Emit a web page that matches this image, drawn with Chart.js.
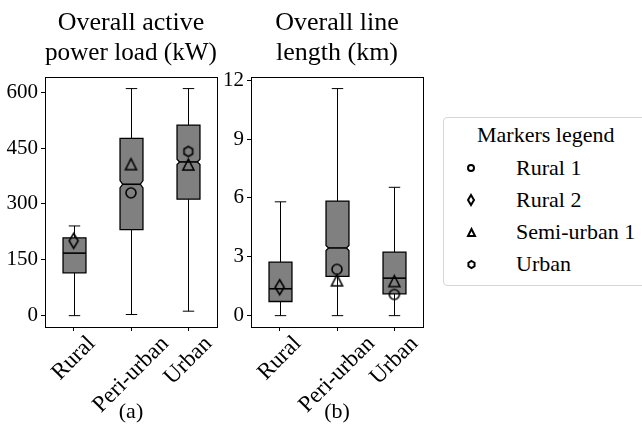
<!DOCTYPE html>
<html>
<head>
<meta charset="utf-8">
<script src="https://cdn.jsdelivr.net/npm/chart.js@4.4.1/dist/chart.umd.min.js"></script>
<style>
  html, body { margin: 0; padding: 0; background: #fff; }
  body { width: 642px; height: 432px; position: relative; overflow: hidden; font-family: 'Liberation Serif', serif; }
  canvas.chart { position: absolute; top: 0; }
  #chartA { left: 0; }
  #chartB { left: 206px; }
  .legend { position: absolute; left: 443px; top: 117px; width: 230px; height: 169px; border: 1px solid #d6d6d6; border-radius: 4px; box-sizing: border-box; }
  .lg { position: absolute; font-size: 22px; line-height: 26px; white-space: nowrap; color: #000; }
  .lm { position: absolute; }
</style>
</head>
<body>
<canvas id="chartA" class="chart" width="232" height="432"></canvas>
<canvas id="chartB" class="chart" width="232" height="432"></canvas>
<div class="legend"></div>
<div id="legendItems"></div>
<script>
const categories = ['Rural', 'Peri-urban', 'Urban'];

// (a) overall active power load (kW)
const loadTicks = [0, 150, 300, 450, 600];
const loadMin = [0, 3, 12];
const loadQ1 = [115, 231, 313];
const loadMedian = [168, 353, 413];
const loadQ3 = [209, 476, 512];
const loadMax = [241, 610, 610];
const loadNotch = [0, 10, 7];

// (b) overall line length (km)
const lengthTicks = [0, 3, 6, 9, 12];
const lengthMin = [0, 0, 0];
const lengthQ1 = [0.72, 2.0, 1.11];
const lengthMedian = [1.37, 3.45, 1.91];
const lengthQ3 = [2.73, 5.84, 3.24];
const lengthMax = [5.8, 11.57, 6.54];
const lengthNotch = [0, 0.13, 0];

// reference feeders shown as markers
const markerNames = ['Rural 1', 'Rural 2', 'Semi-urban 1', 'Urban'];
const loadRural1 = [null, 330, null];
const loadRural2 = [201, null, null];
const loadSemiUrban1 = [null, 407, 406];
const loadUrban = [null, null, 441];
const lengthRural1 = [null, 2.36, 1.08];
const lengthRural2 = [1.45, null, null];
const lengthSemiUrban1 = [null, 1.8, 1.76];
const lengthUrban = [null, null, null];

Chart.defaults.font.family = "'Liberation Serif', serif";
Chart.defaults.color = '#000';

function markerImage(shape, size, lw) {
  const pad = Math.ceil(lw) + 1;
  const c = document.createElement('canvas');
  c.width = c.height = Math.ceil(size) + pad * 2;
  const ctx = c.getContext('2d');
  const m = c.width / 2, r = size / 2;
  ctx.beginPath();
  if (shape === 'circle') {
    ctx.arc(m, m, r, 0, Math.PI * 2);
  } else if (shape === 'diamond') {
    ctx.moveTo(m, m - r); ctx.lineTo(m + r * 0.6, m); ctx.lineTo(m, m + r); ctx.lineTo(m - r * 0.6, m);
    ctx.closePath();
  } else if (shape === 'triangle') {
    ctx.moveTo(m, m - r); ctx.lineTo(m + r, m + r); ctx.lineTo(m - r, m + r);
    ctx.closePath();
  } else {
    for (let k = 0; k < 6; k++) {
      const a = -Math.PI / 2 + k * Math.PI / 3;
      ctx.lineTo(m + r * Math.cos(a), m + r * Math.sin(a));
    }
    ctx.closePath();
  }
  ctx.lineWidth = lw;
  ctx.strokeStyle = '#000';
  ctx.stroke();
  return c;
}

const shapes = ['circle', 'diamond', 'triangle', 'hexagon'];
const plotSizes = [10, 15, 11, 10];
const plotMarkers = shapes.map((s, i) => markerImage(s, plotSizes[i], 1.6));

function boxPlugin(mins, q1s, meds, q3s, maxs, notches) {
  return {
    id: 'boxes',
    beforeDatasetsDraw(chart) {
      const {ctx, scales: {x, y}} = chart;
      const step = x.getPixelForValue(1) - x.getPixelForValue(0);
      const hw = step * 0.2, cw = step * 0.1, ind = step * 0.045;
      ctx.save();
      categories.forEach((c, i) => {
        const cx = Math.round(x.getPixelForValue(i)) + 0.5;
        const yMin = y.getPixelForValue(mins[i]);
        const yQ1 = y.getPixelForValue(q1s[i]);
        const yMed = y.getPixelForValue(meds[i]);
        const yQ3 = y.getPixelForValue(q3s[i]);
        const yMax = y.getPixelForValue(maxs[i]);
        ctx.strokeStyle = '#000';
        ctx.lineWidth = 1;
        ctx.beginPath();
        ctx.moveTo(cx, yMin); ctx.lineTo(cx, yQ1);
        ctx.moveTo(cx, yQ3); ctx.lineTo(cx, yMax);
        ctx.moveTo(cx - cw, yMin); ctx.lineTo(cx + cw, yMin);
        ctx.moveTo(cx - cw, yMax); ctx.lineTo(cx + cw, yMax);
        ctx.stroke();

        const l = cx - hw, r = cx + hw;
        const n = notches[i];
        ctx.beginPath();
        if (n > 0) {
          const nLo = y.getPixelForValue(meds[i] - n), nHi = y.getPixelForValue(meds[i] + n);
          ctx.moveTo(l, yQ1); ctx.lineTo(r, yQ1); ctx.lineTo(r, nLo); ctx.lineTo(r - ind, yMed);
          ctx.lineTo(r, nHi); ctx.lineTo(r, yQ3); ctx.lineTo(l, yQ3); ctx.lineTo(l, nHi);
          ctx.lineTo(l + ind, yMed); ctx.lineTo(l, nLo);
          ctx.closePath();
        } else {
          ctx.rect(l, yQ3, r - l, yQ1 - yQ3);
        }
        ctx.fillStyle = '#808080';
        ctx.fill();
        ctx.lineWidth = 1.3;
        ctx.stroke();

        ctx.beginPath();
        ctx.moveTo(n > 0 ? l + ind : l, yMed);
        ctx.lineTo(n > 0 ? r - ind : r, yMed);
        ctx.lineWidth = 1.6;
        ctx.stroke();
      });
      ctx.restore();
    }
  };
}

// frame around the axes and 45 degree category labels centred under ticks
const framePlugin = {
  id: 'frame',
  afterDraw(chart) {
    const {ctx, chartArea: a, scales: {x}} = chart;
    ctx.save();
    ctx.strokeStyle = '#000';
    ctx.lineWidth = 1;
    ctx.strokeRect(Math.round(a.left) + 0.5, Math.round(a.top) + 0.5,
      Math.round(a.right - a.left), Math.round(a.bottom - a.top));
    ctx.font = "23px 'Liberation Serif'";
    ctx.fillStyle = '#000';
    ctx.textAlign = 'right';
    ctx.textBaseline = 'middle';
    const c = Math.SQRT1_2, h = 15;
    x.getLabels().forEach((lab, i) => {
      const w = ctx.measureText(lab).width;
      ctx.save();
      ctx.translate(x.getPixelForValue(i) + c * w / 2, a.bottom + 8 + c * h / 2);
      ctx.rotate(-Math.PI / 4);
      ctx.fillText(lab, 0, 0);
      ctx.restore();
    });
    ctx.restore();
  }
};

function makeChart(id, title, xTitle, ticks, mins, q1s, meds, q3s, maxs, notches, series) {
  const lo = Math.min(...mins), hi = Math.max(...maxs);
  const margin = (hi - lo) * 0.05;
  return new Chart(document.getElementById(id).getContext('2d'), {
    type: 'line',
    data: {
      labels: categories,
      datasets: series.map((s, i) => ({
        label: markerNames[i],
        data: s,
        showLine: false,
        pointStyle: plotMarkers[i],
        pointRadius: 5
      }))
    },
    options: {
      responsive: false,
      animation: false,
      layout: {padding: {left: 0, right: 15, top: 0, bottom: 0}},
      plugins: {
        legend: {display: false},
        tooltip: {enabled: false},
        title: {
          display: true,
          fullSize: false,
          text: title,
          color: '#000',
          font: {size: 26, weight: 'normal', lineHeight: 1.12},
          padding: {top: 9, bottom: 10}
        }
      },
      scales: {
        x: {
          offset: true,
          afterFit: s => { s.height = 105; },
          border: {display: false},
          grid: {drawOnChartArea: false, offset: false, tickLength: 4, color: '#000'},
          ticks: {display: false},
          title: {display: true, text: xTitle, color: '#000', font: {size: 22}, padding: {top: 0, bottom: 7}}
        },
        y: {
          min: lo - margin,
          max: hi + margin,
          afterBuildTicks: s => { s.ticks = ticks.map(v => ({value: v})); },
          afterFit: s => { s.width = 45; },
          border: {display: false},
          grid: {drawOnChartArea: false, tickLength: 4, color: '#000'},
          ticks: {padding: 3, color: '#000', font: {size: 21}}
        }
      }
    },
    plugins: [boxPlugin(mins, q1s, meds, q3s, maxs, notches), framePlugin]
  });
}

makeChart('chartA', ['Overall active', 'power load (kW)'], '(a)', loadTicks,
  loadMin, loadQ1, loadMedian, loadQ3, loadMax, loadNotch,
  [loadRural1, loadRural2, loadSemiUrban1, loadUrban]);

makeChart('chartB', ['Overall line', 'length (km)'], '(b)', lengthTicks,
  lengthMin, lengthQ1, lengthMedian, lengthQ3, lengthMax, lengthNotch,
  [lengthRural1, lengthRural2, lengthSemiUrban1, lengthUrban]);

// legend
const legendSizes = [6, 10, 7, 7];
const holder = document.getElementById('legendItems');
const titleEl = document.createElement('div');
titleEl.className = 'lg';
titleEl.style.left = '477px';
titleEl.style.top = (135 - 13) + 'px';
titleEl.textContent = 'Markers legend';
holder.appendChild(titleEl);
const rowY = [168, 200, 232, 264];
markerNames.forEach((name, i) => {
  const img = markerImage(shapes[i], legendSizes[i], 2);
  img.className = 'lm';
  img.style.left = (471 - img.width / 2) + 'px';
  img.style.top = (rowY[i] - img.height / 2) + 'px';
  holder.appendChild(img);
  const t = document.createElement('div');
  t.className = 'lg';
  t.style.left = '516px';
  t.style.top = (rowY[i] - 13) + 'px';
  t.textContent = name;
  holder.appendChild(t);
});
</script>
</body>
</html>
